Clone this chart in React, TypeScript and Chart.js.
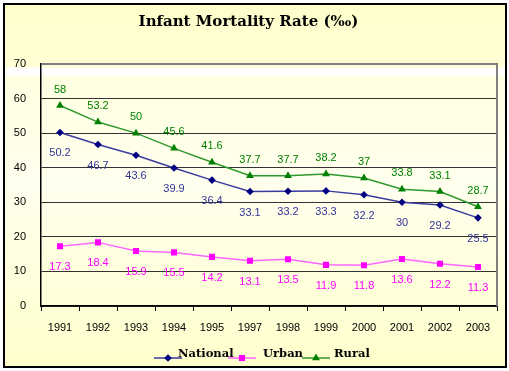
import React, { useEffect, useRef } from 'react';
import { Chart, registerables } from 'chart.js';

Chart.register(...registerables);

const years = ['1991', '1992', '1993', '1994', '1995', '1997', '1998', '1999', '2000', '2001', '2002', '2003'];
const national = [50.2, 46.7, 43.6, 39.9, 36.4, 33.1, 33.2, 33.3, 32.2, 30, 29.2, 25.5];
const urban = [17.3, 18.4, 15.9, 15.5, 14.2, 13.1, 13.5, 11.9, 11.8, 13.6, 12.2, 11.3];
const rural = [58, 53.2, 50, 45.6, 41.6, 37.7, 37.7, 38.2, 37, 33.8, 33.1, 28.7];
const seriesNames = ['National', 'Urban', 'Rural'];
const titleText = 'Infant Mortality Rate (‰)';
const yMin = 0;
const yMax = 70;
const yStep = 10;

const W = 509;
const H = 371;

const styles = [
  { line: '#3B3BA0', point: '#000080', text: '#333399', shape: 'rectRot', radius: 3.8, labelDy: 21 },
  { line: '#FF66FF', point: '#FF00FF', text: '#FF00FF', shape: 'rect', radius: 4.3, labelDy: 21 },
  { line: '#2E9A2E', point: '#008000', text: '#008000', shape: 'triangle', radius: 4.5, labelDy: -16 },
];

function drawMarker(ctx: CanvasRenderingContext2D, shape: string, x: number, y: number, r: number, color: string) {
  ctx.save();
  ctx.fillStyle = color;
  ctx.beginPath();
  if (shape === 'rectRot') {
    ctx.moveTo(x, y - r);
    ctx.lineTo(x + r, y);
    ctx.lineTo(x, y + r);
    ctx.lineTo(x - r, y);
  } else if (shape === 'rect') {
    const s = r * Math.SQRT1_2;
    ctx.rect(x - s, y - s, 2 * s, 2 * s);
  } else {
    const w = (r * Math.sqrt(3)) / 2;
    ctx.moveTo(x, y - r);
    ctx.lineTo(x + w, y + r / 2);
    ctx.lineTo(x - w, y + r / 2);
  }
  ctx.closePath();
  ctx.fill();
  ctx.restore();
}

const backgroundPlugin = {
  id: 'bgPlugin',
  beforeDraw(chart: any) {
    const ctx = chart.ctx as CanvasRenderingContext2D;
    ctx.save();
    ctx.fillStyle = '#FFFFFF';
    ctx.fillRect(0, 0, W, H);
    const g = ctx.createLinearGradient(0, 4, 0, 366);
    g.addColorStop(0, '#FFFFCC');
    g.addColorStop(0.17, '#FFFFD4');
    g.addColorStop(0.18, '#FFFFFF');
    g.addColorStop(0.195, '#FFFFFF');
    g.addColorStop(0.2, '#FFFFE2');
    g.addColorStop(0.5, '#FFFFEE');
    g.addColorStop(1, '#FFFFCC');
    ctx.fillStyle = g;
    ctx.fillRect(4, 4, 502, 363);
    ctx.lineWidth = 2;
    ctx.strokeStyle = '#000000';
    ctx.strokeRect(4, 4, 502, 363);
    ctx.restore();
  },
  beforeDatasetsDraw(chart: any) {
    const ctx = chart.ctx as CanvasRenderingContext2D;
    const a = chart.chartArea;
    ctx.save();
    ctx.strokeStyle = '#808080';
    ctx.lineWidth = 2;
    ctx.beginPath();
    ctx.moveTo(a.left, a.top);
    ctx.lineTo(a.right, a.top);
    ctx.lineTo(a.right, a.bottom);
    ctx.stroke();
    ctx.restore();
  },
};

const labelPlugin = {
  id: 'labelPlugin',
  afterDatasetsDraw(chart: any) {
    const ctx = chart.ctx as CanvasRenderingContext2D;
    ctx.save();
    ctx.font = '11px "Liberation Sans", Arial, sans-serif';
    ctx.textAlign = 'center';
    ctx.textBaseline = 'middle';
    chart.data.datasets.forEach((ds: any, i: number) => {
      const meta = chart.getDatasetMeta(i);
      const st = styles[i];
      ctx.fillStyle = st.text;
      meta.data.forEach((pt: any, j: number) => {
        ctx.fillText(String(ds.data[j]), pt.x, pt.y + st.labelDy);
      });
    });
    ctx.restore();
  },
  afterDraw(chart: any) {
    const ctx = chart.ctx as CanvasRenderingContext2D;
    const lineStart = [154, 228, 302];
    const lineLen = 28;
    const textStart = [178, 263, 334];
    const lineY = 358;
    const textY = 354;
    ctx.save();
    ctx.font = 'bold 11.5px "DejaVu Serif", serif';
    ctx.textBaseline = 'middle';
    ctx.textAlign = 'left';
    chart.data.datasets.forEach((ds: any, i: number) => {
      const st = styles[i];
      ctx.strokeStyle = st.line;
      ctx.lineWidth = 1.5;
      ctx.beginPath();
      ctx.moveTo(lineStart[i], lineY);
      ctx.lineTo(lineStart[i] + lineLen, lineY);
      ctx.stroke();
      drawMarker(ctx, st.shape, lineStart[i] + lineLen / 2, lineY, st.radius, st.point);
      ctx.fillStyle = '#000000';
      ctx.fillText(ds.label, textStart[i], textY);
    });
    ctx.restore();
  },
};

export default function App() {
  const ref = useRef<HTMLCanvasElement | null>(null);

  useEffect(() => {
    document.body.style.margin = '0';
    if (!ref.current) return;
    const series = [national, urban, rural];
    const chart = new Chart(ref.current, {
      type: 'line',
      data: {
        labels: years,
        datasets: series.map((d, i) => ({
          label: seriesNames[i],
          data: d,
          borderColor: styles[i].line,
          backgroundColor: styles[i].point,
          pointBackgroundColor: styles[i].point,
          pointBorderColor: styles[i].point,
          pointBorderWidth: 0,
          pointStyle: styles[i].shape as any,
          pointRadius: styles[i].radius,
          borderWidth: 1.5,
          tension: 0,
          fill: false,
        })),
      },
      options: {
        responsive: false,
        animation: false,
        layout: { padding: { left: 0, right: 12, top: 0, bottom: 0 } },
        plugins: {
          legend: { display: false },
          tooltip: { enabled: false },
          title: {
            display: true,
            text: titleText,
            color: '#000000',
            font: { family: '"DejaVu Serif", serif', size: 15, weight: 'bold' },
            padding: { top: 13, bottom: 33 },
          },
        },
        scales: {
          x: {
            offset: true,
            grid: {
              display: true,
              offset: true,
              drawOnChartArea: false,
              drawTicks: true,
              tickLength: 5,
              color: '#000000',
            },
            border: { display: true, color: '#000000', width: 1.5 },
            ticks: {
              color: '#000000',
              font: { family: '"Liberation Sans", Arial, sans-serif', size: 11 },
              padding: 10,
              maxRotation: 0,
              autoSkip: false,
            },
            afterFit: (scale: any) => {
              scale.height = 65;
            },
          },
          y: {
            min: yMin,
            max: yMax,
            ticks: {
              stepSize: yStep,
              color: '#000000',
              font: { family: '"Liberation Sans", Arial, sans-serif', size: 11 },
              padding: 15,
            },
            grid: {
              drawTicks: false,
              color: (c: any) => (c.tick && c.tick.value === yMax ? '#808080' : '#333333'),
              lineWidth: 1,
            },
            border: { display: true, color: '#000000', width: 1.5 },
            afterFit: (scale: any) => {
              scale.width = 41;
            },
          },
        },
      },
      plugins: [backgroundPlugin, labelPlugin],
    });
    return () => chart.destroy();
  }, []);

  return (
    <div style={{ width: W, height: H }}>
      <canvas ref={ref} width={W} height={H} style={{ display: 'block' }} />
    </div>
  );
}
